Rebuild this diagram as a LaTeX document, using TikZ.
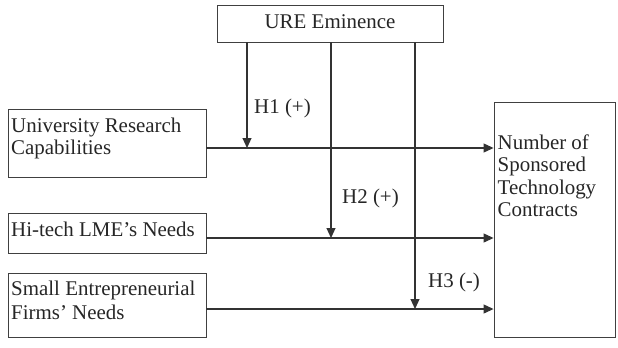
\documentclass[tikz,border=0pt]{standalone}
\usepackage{fontspec}
\setmainfont{Liberation Serif}
\usetikzlibrary{arrows.meta}
\begin{document}
\begin{tikzpicture}[x=1bp,y=-1bp,
  box/.style={draw=black!75,line width=0.9bp,rectangle,inner sep=0},
  txt/.style={inner sep=0,font=\fontsize{21}{22.5}\selectfont,align=left,text=black!85},
  conn/.style={draw=black!80,line width=1.1bp},
  arr/.style={conn,-{Triangle[length=10bp,width=9bp]}}]
\useasboundingbox (0,0) rectangle (618,347);
% boxes
\node[box,minimum width=226bp,minimum height=37bp] (ure) at (330,23.5) {};
\node[box,minimum width=198bp,minimum height=68bp] (urc) at (107,143) {};
\node[box,minimum width=198bp,minimum height=40bp] (hlme) at (107,233) {};
\node[box,minimum width=198bp,minimum height=64bp] (sef) at (107,305) {};
\node[box,minimum width=121bp,minimum height=235bp] (nst) at (554.5,219.5) {};
% texts
\node[txt,anchor=base] (uret) at (330,28) {URE Eminence};
\node[txt,anchor=north west] (urct) at (11,117.5) {University Research\\Capabilities};
\node[txt,anchor=base west] (hlmet) at (11,236) {Hi-tech LME’s Needs};
\node[txt,anchor=north west,font=\fontsize{21}{24.5}\selectfont] (seft) at (11,280.5) {Small Entrepreneurial\\Firms’ Needs};
\node[txt,anchor=north west] (nstt) at (497.5,134.5) {Number of\\Sponsored\\Technology\\Contracts};
\node[txt,anchor=base west] (h1) at (254,113) {H1 (+)};
\node[txt,anchor=base west] (h2) at (342,203) {H2 (+)};
\node[txt,anchor=base west] (h3) at (428,287) {H3 (-)};
% junction coordinates
\coordinate (j1) at (247,148);
\coordinate (j2) at (331,238);
\coordinate (j3) at (415,309);
% main arrows
\draw[arr] (urc.east |- j1) -- (nst.west |- j1);
\draw[arr] (hlme.east |- j2) -- (nst.west |- j2);
\draw[arr] (sef.east |- j3) -- (nst.west |- j3);
% moderating arrows
\draw[arr] (ure.south -| j1) -- (j1);
\draw[arr] (ure.south -| j2) -- (j2);
\draw[arr] (ure.south -| j3) -- (j3);
\end{tikzpicture}
\end{document}
